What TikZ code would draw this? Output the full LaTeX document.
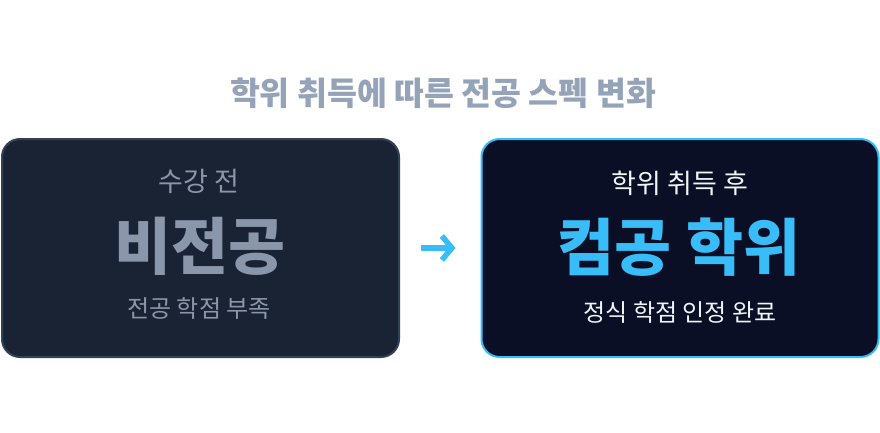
\documentclass[tikz,border=0pt]{standalone}
\usepackage{fontspec}
\newfontfamily\kr{Noto Sans CJK KR}
\usetikzlibrary{arrows.meta}
\definecolor{pagebg}{HTML}{FFFFFF}
\definecolor{titlecol}{HTML}{94A3B8}
\definecolor{leftfill}{HTML}{1A2333}
\definecolor{leftdraw}{HTML}{334155}
\definecolor{lefttext}{HTML}{8A97AA}
\definecolor{rightfill}{HTML}{0A0F26}
\definecolor{accent}{HTML}{38BDF8}
\definecolor{lighttext}{HTML}{F1F5F9}
\tikzset{
  card/.style={rounded corners=18pt, line width=2pt, minimum width=397pt, minimum height=218pt, inner sep=0pt},
  small/.style={font=\kr\fontsize{24}{28}\selectfont, inner sep=0pt},
  head/.style={font=\kr\fontsize{27}{31}\selectfont, inner sep=0pt},
  big/.style={font=\kr\bfseries\fontsize{62}{66}\selectfont, inner sep=0pt},
  arr/.style={accent, line width=5.5pt, -{Straight Barb[length=10pt,width=24pt,line width=5.5pt]}}
}
\begin{document}
\begin{tikzpicture}[x=1pt,y=-1pt]
\useasboundingbox[fill=pagebg] (0,0) rectangle (880,432);
\node[font=\kr\bfseries\fontsize{32.5}{36}\selectfont, text=titlecol, inner sep=0pt] (title) at (443,93) {학위 취득에 따른 전공 스펙 변화};
\node[card, fill=leftfill, draw=leftdraw] (L) at (200.5,248) {};
\node[card, fill=rightfill, draw=accent] (R) at (680,248) {};
\node[head, text=lefttext] (l1) at (199,181) {수강 전};
\node[big, text=lefttext] (l2) at (200,246) {비전공};
\node[small, text=lefttext] (l3) at (199,308) {전공 학점 부족};
\node[head, text=lighttext] (r1) at (680,183) {학위 취득 후};
\node[big, text=accent] (r2) at (679,247) {컴공 학위};
\node[small, text=lighttext] (r3) at (680,312) {정식 학점 인정 완료};
\coordinate (a1) at ([xshift=21pt]L.east);
\coordinate (a2) at ([xshift=-25pt]R.west);
\draw[arr] (a1) -- (a2);
\end{tikzpicture}
\end{document}
